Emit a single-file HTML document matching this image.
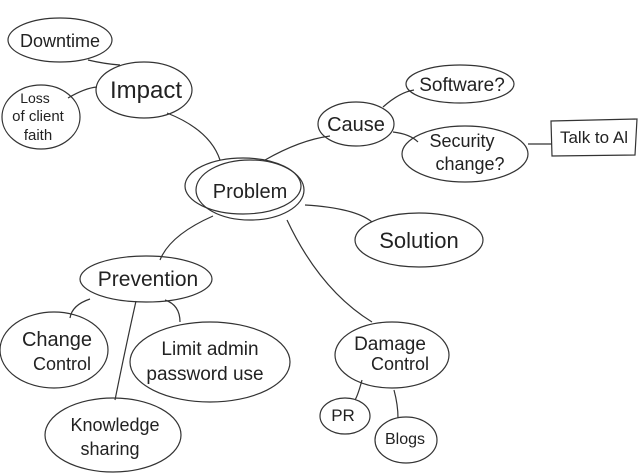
<!DOCTYPE html>
<html><head><meta charset="utf-8"><style>
html,body{margin:0;padding:0;background:#fff;width:640px;height:476px;overflow:hidden}
text{font-family:"Liberation Sans",sans-serif;font-size:17px;fill:#222;text-anchor:middle}
</style></head><body>
<svg width="640" height="476" viewBox="0 0 640 476" xmlns="http://www.w3.org/2000/svg">
<g fill="none" stroke="#333" stroke-width="1.2">
<ellipse cx="60" cy="40" rx="52" ry="22"/>
<ellipse cx="144" cy="90" rx="48" ry="28"/>
<ellipse cx="41" cy="117" rx="39" ry="32"/>
<ellipse cx="356" cy="124" rx="38" ry="22"/>
<ellipse cx="460" cy="84" rx="54" ry="19"/>
<ellipse cx="465" cy="154" rx="63" ry="28"/>
<path d="M551 121 L637 119 L635 155 L552 156 Z"/>
<ellipse cx="250" cy="190" rx="54" ry="30"/>
<ellipse cx="243" cy="186" rx="58" ry="28"/>
<ellipse cx="419" cy="240" rx="64" ry="27"/>
<ellipse cx="146" cy="279" rx="66" ry="23"/>
<ellipse cx="54" cy="350" rx="54" ry="38"/>
<ellipse cx="210" cy="362" rx="80" ry="40"/>
<ellipse cx="113" cy="435" rx="68" ry="37"/>
<ellipse cx="392" cy="355" rx="57" ry="33"/>
<ellipse cx="345" cy="416" rx="25" ry="18"/>
<ellipse cx="406" cy="440" rx="31" ry="23"/>
<path d="M88 60 Q105 64 120 65"/>
<path d="M68 98 Q85 88 97 87"/>
<path d="M167 113 Q210 130 220 160"/>
<path d="M265 160 Q300 140 330 136"/>
<path d="M383 107 Q400 92 414 90"/>
<path d="M393 132 Q410 134 418 142"/>
<path d="M528 144 L552 144"/>
<path d="M305 205 Q355 208 372 222"/>
<path d="M213 216 Q170 235 160 260"/>
<path d="M287 220 Q320 290 372 322"/>
<path d="M90 299 Q72 305 70 318"/>
<path d="M136 301 Q125 350 115 400"/>
<path d="M165 300 Q180 305 180 322"/>
<path d="M362 380 Q358 395 355 400"/>
<path d="M394 390 Q398 405 398 418"/>
</g>
<text x="60" y="47" style="font-size:18px">Downtime</text>
<text x="146" y="98" style="font-size:24px">Impact</text>
<text x="35" y="103" style="font-size:14px">Loss</text>
<text x="38" y="121" style="font-size:15px">of client</text>
<text x="38" y="140" style="font-size:15px">faith</text>
<text x="356" y="131" style="font-size:20px">Cause</text>
<text x="462" y="91" style="font-size:19px">Software?</text>
<text x="462" y="147" style="font-size:18px">Security</text>
<text x="470" y="170" style="font-size:18px">change?</text>
<text x="594" y="143" style="font-size:17px">Talk to Al</text>
<text x="250" y="198" style="font-size:20px">Problem</text>
<text x="419" y="248" style="font-size:22px">Solution</text>
<text x="148" y="286" style="font-size:21px">Prevention</text>
<text x="57" y="346" style="font-size:20px">Change</text>
<text x="62" y="370" style="font-size:18px">Control</text>
<text x="210" y="355" style="font-size:19px">Limit admin</text>
<text x="205" y="380" style="font-size:19px">password use</text>
<text x="115" y="431" style="font-size:18px">Knowledge</text>
<text x="110" y="455" style="font-size:18px">sharing</text>
<text x="390" y="350" style="font-size:19px">Damage</text>
<text x="400" y="370" style="font-size:18px">Control</text>
<text x="343" y="421" style="font-size:17px">PR</text>
<text x="405" y="444" style="font-size:16px">Blogs</text>
</svg>
</body></html>
